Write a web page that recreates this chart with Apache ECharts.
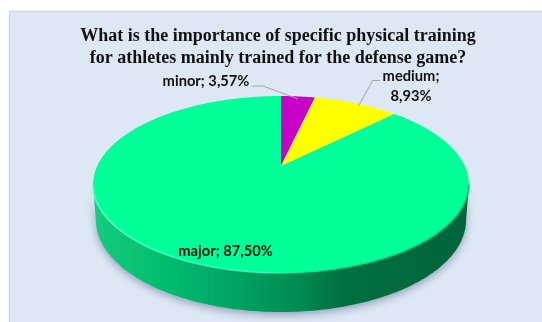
<!DOCTYPE html>
<html><head><meta charset="utf-8">
<style>html,body{margin:0;padding:0;background:#fff}#c{width:542px;height:322px}</style>
<script src="https://cdn.jsdelivr.net/npm/echarts@6/dist/echarts.min.js"></script>
</head><body><div id="c"></div>
<script>
const categories = ['minor', 'medium', 'major'];
const shares = [3.57, 8.93, 87.5];
const shareLabels = ['3,57%', '8,93%', '87,50%'];
const titleLines = ['What is the importance of specific physical training', 'for athletes mainly trained for the defense game?'];

const sliceColors = ['#C800C8', '#FFFF00', '#00FF99'];
const CX = 281, K = 0.209;
const TOP = {Y0: 166, A: 183.8, B: 84.6};
const BOT = {Y0: 200.8, A: 181, B: 88};
function proj(p, th) {
  const u = Math.sin(th), v = Math.cos(th), w = 1 + K * v;
  return [CX + p.A * u / w, p.Y0 - p.B * v / w];
}
const total = shares.reduce((a, b) => a + b, 0);
const wallFill = {type: 'linear', x: 93, y: 0, x2: 469, y2: 0, global: true, colorStops: [
  {offset: 0, color: '#16CC7E'}, {offset: 0.2, color: '#00BC6E'}, {offset: 0.4, color: '#00A060'},
  {offset: 0.55, color: '#008A50'}, {offset: 0.66, color: '#00703F'}, {offset: 1, color: '#00643A'}]};
const rimStroke = {type: 'linear', x: 93, y: 0, x2: 469, y2: 0, global: true, colorStops: [
  {offset: 0, color: 'rgba(90,255,205,0.7)'}, {offset: 0.45, color: 'rgba(70,255,200,0.55)'},
  {offset: 0.6, color: 'rgba(0,215,130,0.45)'}, {offset: 1, color: 'rgba(0,160,95,0.6)'}]};

const labelSpec = [
  {x: 206, y: 81, lines: 1, leader: [[252, 86], [263, 86], [298, 99]]},
  {x: 411, y: 86, lines: 2, leader: [[380, 80.5], [372.6, 80.5], [358.5, 106]]},
  {x: 225.5, y: 251, lines: 1}
];

function renderSlice(params, api) {
  const i = params.dataIndex;
  const val = api.value(1);
  let before = 0;
  for (let j = 0; j < i; j++) before += shares[j];
  const a0 = before / total * 2 * Math.PI, a1 = (before + val) / total * 2 * Math.PI;
  const children = [];
  const frontStart = Math.PI - Math.acos(K), frontEnd = Math.PI + Math.acos(K);
  const s = Math.max(a0, frontStart), e = Math.min(a1, frontEnd);
  if (e > s) {
    const topArc = [], botArc = [];
    for (let n = 0; n <= 160; n++) {
      const t = s + (e - s) * n / 160;
      topArc.push(proj(TOP, t)); botArc.push(proj(BOT, t));
    }
    children.push({type: 'polygon', shape: {points: botArc.concat(topArc.slice().reverse())},
      style: {fill: wallFill, shadowBlur: 9, shadowColor: 'rgba(70,90,125,0.5)', shadowOffsetY: 3}});
  }
  const pts = [[CX, TOP.Y0]];
  const steps = Math.max(4, Math.ceil((a1 - a0) * 60));
  for (let n = 0; n <= steps; n++) pts.push(proj(TOP, a0 + (a1 - a0) * n / steps));
  children.push({type: 'polygon', shape: {points: pts}, style: {fill: sliceColors[i]}});
  if (e > s) {
    const rim = [];
    for (let n = 0; n <= 160; n++) rim.push(proj(TOP, s + (e - s) * n / 160));
    children.push({type: 'polyline', shape: {points: rim}, style: {stroke: rimStroke, lineWidth: 2, fill: null}});
  }
  const sp = labelSpec[i];
  if (sp.leader) children.push({type: 'polyline', shape: {points: sp.leader},
    style: {stroke: '#A6A6A6', lineWidth: 1, fill: null}});
  const txt = sp.lines === 2 ? categories[i] + ';\n' + shareLabels[i] : categories[i] + '; ' + shareLabels[i];
  children.push({type: 'text', x: sp.x, y: sp.y, z2: 50, style: {text: txt, fill: '#111', align: 'center', verticalAlign: 'middle',
    font: 'bold 14.7px Lato', lineHeight: 20}});
  return {type: 'group', children};
}

const chart = echarts.init(document.getElementById('c'), null, {renderer: 'canvas'});
chart.setOption({
  animation: false,
  backgroundColor: '#fff',
  graphic: [
    {type: 'rect', z: -10, shape: {x: 9.5, y: 11.5, width: 560, height: 340},
      style: {fill: '#DEE8F4', stroke: '#D2D6DA', lineWidth: 1.5}}
  ],
  title: {
    text: titleLines.join('\n'), left: 273, top: 20, textAlign: 'center',
    textStyle: {fontFamily: 'Liberation Serif', fontWeight: 'bold', fontSize: 18, lineHeight: 22, color: '#111'}
  },
  series: [{
    type: 'custom', coordinateSystem: 'none', renderItem: renderSlice,
    data: categories.map((c, i) => ({name: c, value: [i, shares[i]]}))
  }]
});
</script></body></html>
